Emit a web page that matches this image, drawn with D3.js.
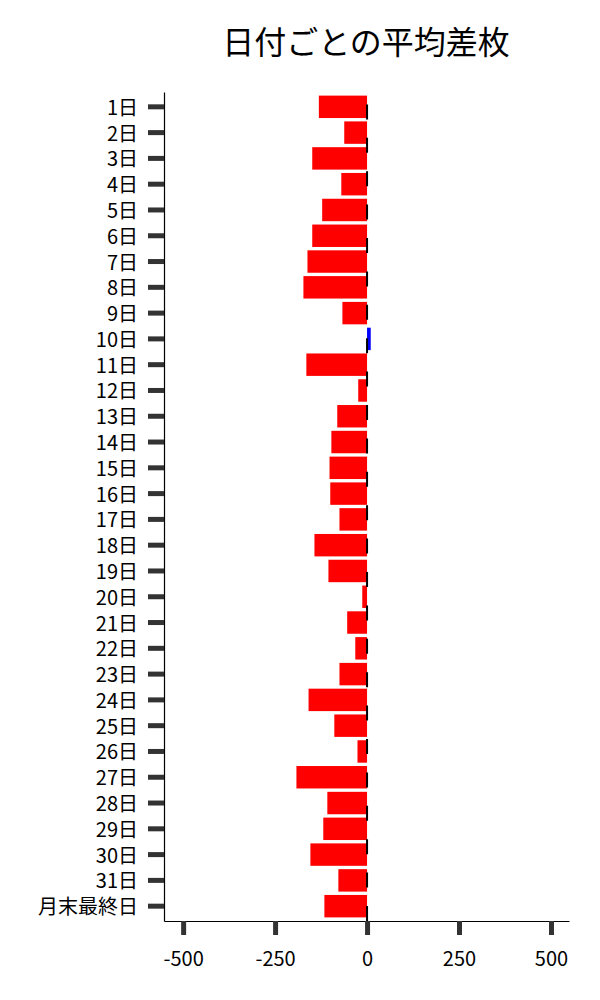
<!DOCTYPE html>
<html><head><meta charset="utf-8">
<script src="https://cdn.jsdelivr.net/npm/d3@7"></script>
<style>body{margin:0;background:#fff;} text{font-family:"Noto Sans CJK JP","Noto Sans",sans-serif;}</style>
</head><body>
<svg id="c" width="600" height="1000"></svg>
<script>
const categories = ["1日","2日","3日","4日","5日","6日","7日","8日","9日","10日","11日","12日","13日","14日","15日","16日","17日","18日","19日","20日","21日","22日","23日","24日","25日","26日","27日","28日","29日","30日","31日","月末最終日"];
const values = [-131,-62,-149,-70,-122,-149,-162,-173,-67,10,-165,-24,-81,-97,-102,-100,-75,-143,-105,-13,-54,-32,-75,-159,-89,-26,-192,-108,-119,-154,-78,-116];
const xTicks = [-500,-250,0,250,500];
const title = "日付ごとの平均差枚";

(function(){
const svg = d3.select("#c");
const mLeft = 164, mRight = 569, mTop = 92, mBottom = 921;
const x = d3.scaleLinear().domain([-552, 549]).range([mLeft, mRight]);
const y = d3.scaleBand().domain(categories).range([mTop, mBottom]).paddingInner(0.13).paddingOuter(0.14);

svg.append("text").attr("x", 366).attr("y", 54).attr("text-anchor", "middle")
  .attr("font-size", 32).attr("fill", "#000").text(title);

svg.append("g").selectAll("rect").data(categories).join("rect")
  .attr("x", (d,i) => x(Math.min(0, values[i])))
  .attr("width", (d,i) => Math.abs(x(values[i]) - x(0)))
  .attr("y", d => y(d))
  .attr("height", y.bandwidth())
  .attr("fill", (d,i) => values[i] >= 0 ? "#0000ff" : "#ff0000");

svg.append("line").attr("x1", x(0)).attr("x2", x(0)).attr("y1", mTop).attr("y2", mBottom)
  .attr("stroke", "#000").attr("stroke-width", 2)
  .attr("stroke-dasharray", "15,18.4").attr("stroke-dashoffset", 21);

const yAxis = svg.append("g").attr("transform", `translate(${mLeft},0)`)
  .call(d3.axisLeft(y).tickSize(16).tickPadding(10).tickSizeOuter(0));
yAxis.select(".domain").attr("stroke", "#000").attr("stroke-width", 1.2);
yAxis.selectAll(".tick line").attr("stroke", "#333").attr("stroke-width", 5);
yAxis.selectAll(".tick text").attr("font-size", 20).attr("fill", "#000").attr("dy", "0.4em")
  .attr("font-family", '"Noto Sans CJK JP","Noto Sans",sans-serif');

const xAxis = svg.append("g").attr("transform", `translate(0,${mBottom})`)
  .call(d3.axisBottom(x).tickValues(xTicks).tickFormat(d => String(d)).tickSize(14).tickPadding(17).tickSizeOuter(0));
xAxis.select(".domain").attr("stroke", "#000").attr("stroke-width", 1.2);
xAxis.selectAll(".tick line").attr("stroke", "#333").attr("stroke-width", 5);
xAxis.selectAll(".tick text").attr("font-size", 20).attr("fill", "#000")
  .attr("font-family", '"Noto Sans CJK JP","Noto Sans",sans-serif');
})();
</script>
</body></html>
